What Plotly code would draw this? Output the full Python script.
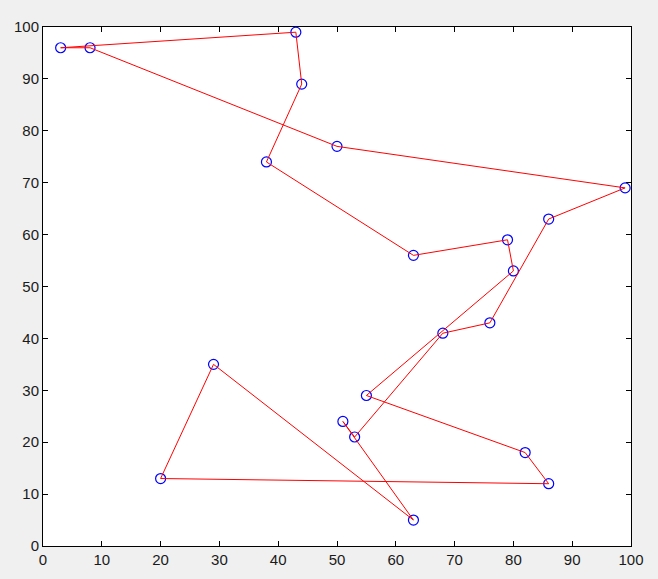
import plotly.graph_objects as go

# Tour order (closed path)
x_vals = [3, 43, 44, 38, 63, 79, 80, 55, 82, 86, 20, 29, 63, 51, 53, 68, 76, 86, 99, 50, 8, 3]
y_vals = [96, 99, 89, 74, 56, 59, 53, 29, 18, 12, 13, 35, 5, 24, 21, 41, 43, 63, 69, 77, 96, 96]
tick_vals = [0, 10, 20, 30, 40, 50, 60, 70, 80, 90, 100]

fig = go.Figure()
fig.add_trace(go.Scatter(x=x_vals[:-1], y=y_vals[:-1], mode="markers",
                         marker=dict(symbol="circle-open", size=10, color="#0000ff",
                                     line=dict(width=1.2, color="#0000ff")),
                         cliponaxis=False, showlegend=False, hoverinfo="skip"))
fig.add_trace(go.Scatter(x=x_vals, y=y_vals, mode="lines",
                         line=dict(color="#ff0000", width=1),
                         cliponaxis=False, showlegend=False))

axis_common = dict(range=[0, 100], tickvals=tick_vals, ticks="inside", ticklen=5,
                   tickcolor="black", showline=True, linecolor="black", linewidth=1,
                   mirror="ticks", showgrid=False, zeroline=False, automargin=False,
                   tickfont=dict(family="Liberation Sans, Arial, sans-serif", size=15, color="#1a1a1a"))

fig.update_layout(
    width=658, height=579,
    margin=dict(l=43, r=27, t=27, b=33),
    paper_bgcolor="#f0f0f0", plot_bgcolor="white",
    xaxis=dict(**axis_common),
    yaxis=dict(**axis_common),
)
fig.write_html("out.html", config={"displayModeBar": False},
               post_script="document.body.style.margin='0';document.body.style.background='#f0f0f0';")
